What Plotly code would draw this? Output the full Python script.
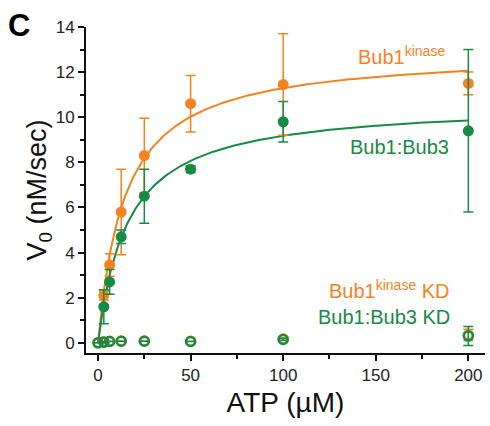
import numpy as np
import plotly.graph_objects as go

# ---- data ----
atp = [3.125, 6.25, 12.5, 25, 50, 100, 200]
bub1_kinase = [2.1, 3.45, 5.8, 8.3, 10.6, 11.45, 11.5]
bub1_kinase_err = [0.2, 0.5, 1.9, 1.65, 1.25, 2.25, 0.5]
bub1_bub3 = [1.6, 2.7, 4.7, 6.5, 7.7, 9.8, 9.4]
bub1_bub3_err = [0.75, 0.55, 0.3, 1.2, 0.15, 0.9, 3.6]

atp_kd = [0, 3.125, 6.25, 12.5, 25, 50, 100, 200]
bub1_kinase_kd = [0.0, 0.05, 0.07, 0.08, 0.08, 0.07, 0.17, 0.35]
bub1_kinase_kd_err = [0, 0, 0, 0, 0, 0, 0.05, 0.25]
bub1_bub3_kd = [0.0, 0.03, 0.06, 0.07, 0.07, 0.06, 0.15, 0.3]
bub1_bub3_kd_err = [0, 0, 0, 0, 0, 0, 0.05, 0.42]

# Michaelis-Menten fit parameters (Vmax, Km)
fit_kinase = (12.93, 14.5)
fit_bub3 = (10.65, 16.0)

x_ticks = [0, 50, 100, 150, 200]
y_ticks = [0, 2, 4, 6, 8, 10, 12, 14]

ORANGE = "#F5821F"
GREEN = "#178A43"

xf = np.linspace(0, 200, 300)

fig = go.Figure()

def mm(p):
    return p[0] * xf / (p[1] + xf)

fig.add_trace(go.Scatter(x=xf, y=mm(fit_kinase), mode="lines",
                         line=dict(color=ORANGE, width=2), hoverinfo="skip"))
fig.add_trace(go.Scatter(x=xf, y=mm(fit_bub3), mode="lines",
                         line=dict(color=GREEN, width=2), hoverinfo="skip"))

fig.add_trace(go.Scatter(x=atp, y=bub1_kinase, mode="markers",
                         marker=dict(color=ORANGE, size=11),
                         error_y=dict(type="data", array=bub1_kinase_err, color=ORANGE,
                                      thickness=1.5, width=5)))
fig.add_trace(go.Scatter(x=atp, y=bub1_bub3, mode="markers",
                         marker=dict(color=GREEN, size=11),
                         error_y=dict(type="data", array=bub1_bub3_err, color=GREEN,
                                      thickness=1.5, width=5)))

fig.add_trace(go.Scatter(x=atp_kd, y=bub1_kinase_kd, mode="markers",
                         marker=dict(color=ORANGE, size=9, symbol="circle-open",
                                     line=dict(width=2.5, color=ORANGE)),
                         error_y=dict(type="data", array=bub1_kinase_kd_err, color=ORANGE,
                                      thickness=1.5, width=5)))
fig.add_trace(go.Scatter(x=atp_kd, y=bub1_bub3_kd, mode="markers",
                         marker=dict(color=GREEN, size=9, symbol="circle-open",
                                     line=dict(width=2.5, color=GREEN)),
                         error_y=dict(type="data", array=bub1_bub3_kd_err, color=GREEN,
                                      thickness=1.5, width=5)))

font = "Liberation Sans, Arial, sans-serif"
ann_font = 20
fig.add_annotation(x=188.5, y=12.75, xref="x", yref="y", text="Bub1<sup>kinase</sup>",
                   showarrow=False, xanchor="right", yanchor="middle",
                   font=dict(color=ORANGE, size=ann_font, family=font))
fig.add_annotation(x=190.5, y=8.7, xref="x", yref="y", text="Bub1:Bub3",
                   showarrow=False, xanchor="right", yanchor="middle",
                   font=dict(color=GREEN, size=ann_font, family=font))
fig.add_annotation(x=191, y=2.35, xref="x", yref="y", text="Bub1<sup>kinase</sup> KD",
                   showarrow=False, xanchor="right", yanchor="middle",
                   font=dict(color=ORANGE, size=ann_font, family=font))
fig.add_annotation(x=191, y=1.15, xref="x", yref="y", text="Bub1:Bub3 KD",
                   showarrow=False, xanchor="right", yanchor="middle",
                   font=dict(color=GREEN, size=ann_font, family=font))
fig.add_annotation(x=-0.2, y=1.065, xref="paper", yref="paper", text="<b>C</b>",
                   showarrow=False, xanchor="left", yanchor="top",
                   font=dict(color="black", size=31, family=font))

axis_common = dict(showline=True, linecolor="#111", linewidth=2, ticks="outside",
                   ticklen=6, tickwidth=2, tickcolor="#111", showgrid=False,
                   zeroline=False, tickfont=dict(size=17, color="#222", family=font),
                   mirror=False, automargin=False)

fig.update_layout(
    width=490, height=426,
    margin=dict(l=86, r=5, t=27, b=73),
    paper_bgcolor="white", plot_bgcolor="white",
    showlegend=False,
    xaxis=dict(range=[-6.5, 209], tickvals=x_ticks,
               minor=dict(tickvals=[25, 75, 125, 175], ticklen=4, tickwidth=2,
                          tickcolor="#111", ticks="outside"),
               title=dict(text="ATP (µM)", font=dict(size=28, color="#111", family=font),
                          standoff=8),
               **axis_common),
    yaxis=dict(range=[-0.45, 14], tickvals=y_ticks,
               minor=dict(tickvals=[1, 3, 5, 7, 9, 11, 13], ticklen=4, tickwidth=2,
                          tickcolor="#111", ticks="outside"),
               title=dict(text="V<sub>0</sub> (nM/sec)", font=dict(size=27, color="#111", family=font),
                          standoff=0),
               **axis_common),
)

fig.write_html("out.html", config={"displayModeBar": False},
               post_script="document.body.style.margin='0';document.body.style.overflow='hidden';")
